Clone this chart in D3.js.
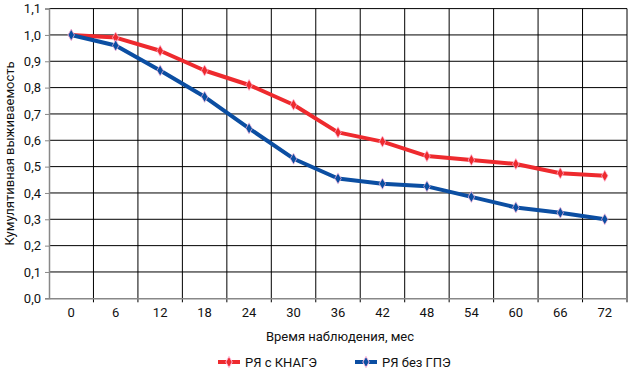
<!DOCTYPE html>
<meta charset="utf-8">
<script src="https://d3js.org/d3.v7.min.js"></script>
<style>
  body { margin: 0; background: #fff; }
  text { font-family: "Liberation Sans Narrow", "Roboto", "Liberation Sans", sans-serif; fill: #111; }
</style>
<div id="chart"></div>
<script>
// months of observation
var months = [0, 6, 12, 18, 24, 30, 36, 42, 48, 54, 60, 66, 72];
// cumulative survival
var withKnage = [1.0, 0.99, 0.94, 0.865, 0.81, 0.735, 0.63, 0.595, 0.54, 0.525, 0.51, 0.475, 0.465];
var withoutGpe = [1.0, 0.96, 0.865, 0.765, 0.645, 0.53, 0.455, 0.435, 0.425, 0.385, 0.345, 0.325, 0.30];
var yTicks = [0, 0.1, 0.2, 0.3, 0.4, 0.5, 0.6, 0.7, 0.8, 0.9, 1.0, 1.1];
var seriesNames = ["РЯ с КНАГЭ", "РЯ без ГПЭ"];
var colors = ["#ee2a2e", "#0b4ea2"];

var W = 632, H = 373;
var margin = {top: 8.6, right: 5, bottom: 74.7, left: 49};
var width = W - margin.left - margin.right,
    height = H - margin.top - margin.bottom;

var svg = d3.select("#chart").append("svg")
    .attr("width", W).attr("height", H);
var g = svg.append("g")
    .attr("transform", "translate(" + margin.left + "," + margin.top + ")");

var x = d3.scaleBand().domain(months).range([0, width]);
var y = d3.scaleLinear().domain([0, 1.1]).range([height, 0]);
var fmt = function(v) { return d3.format(".1f")(v).replace(".", ","); };

// horizontal grid
g.append("g").selectAll("line").data(yTicks.slice(1)).enter().append("line")
    .attr("x1", 0).attr("x2", width)
    .attr("y1", function(d) { return y(d); }).attr("y2", function(d) { return y(d); })
    .attr("stroke", "#000").attr("stroke-width", 1);

// vertical grid at band boundaries
var bounds = months.slice(1).map(function(m) { return x(m); }).concat([width]);
g.append("g").selectAll("line").data(bounds).enter().append("line")
    .attr("x1", function(d) { return d; }).attr("x2", function(d) { return d; })
    .attr("y1", 0).attr("y2", height + 4)
    .attr("stroke", "#000").attr("stroke-width", 1);

// y axis
var yAxis = g.append("g").call(d3.axisLeft(y).tickValues(yTicks).tickFormat(fmt).tickSize(4).tickPadding(4));
yAxis.select(".domain").attr("stroke", "#888").attr("stroke-width", 1.5);
yAxis.selectAll(".tick line").attr("stroke", "#888");
yAxis.selectAll("text").style("font-size", "13px");

// x axis
var xAxis = g.append("g").attr("transform", "translate(0," + height + ")")
    .call(d3.axisBottom(x).tickSize(0).tickPadding(9));
xAxis.select(".domain").attr("stroke", "#888").attr("stroke-width", 1.5);
xAxis.selectAll("text").style("font-size", "13px");

// axis titles
svg.append("text")
    .attr("x", margin.left + width / 2 + 2).attr("y", 341)
    .attr("text-anchor", "middle").style("font-size", "13px")
    .text("Время наблюдения, мес");
svg.append("text")
    .attr("transform", "translate(14," + (margin.top + height / 2) + ") rotate(-90)")
    .attr("text-anchor", "middle").style("font-size", "13px")
    .text("Кумулятивная выживаемость");

// series
var series = [withKnage, withoutGpe];
var line = d3.line()
    .x(function(d, i) { return x(months[i]) + x.bandwidth() / 2; })
    .y(function(d) { return y(d); });
var diamond = d3.symbol().type(d3.symbolDiamond).size(36);

series.forEach(function(vals, k) {
  g.append("path").datum(vals)
    .attr("d", line).attr("fill", "none")
    .attr("stroke", colors[k]).attr("stroke-width", 4)
    .attr("stroke-linejoin", "round");
  g.append("g").selectAll("path").data(vals).enter().append("path")
    .attr("d", diamond)
    .attr("transform", function(d, i) { return "translate(" + (x(months[i]) + x.bandwidth() / 2) + "," + y(d) + ")"; })
    .attr("fill", colors[k]).attr("stroke", "#fbd").attr("stroke-opacity", 0.7).attr("stroke-width", 1);
});

// legend
var legendX = [218, 355];
seriesNames.forEach(function(name, k) {
  var lg = svg.append("g").attr("transform", "translate(" + legendX[k] + ",362)");
  lg.append("line").attr("x1", 0).attr("x2", 22).attr("y1", 0).attr("y2", 0)
    .attr("stroke", colors[k]).attr("stroke-width", 4);
  lg.append("path").attr("d", diamond).attr("transform", "translate(11,0)")
    .attr("fill", colors[k]).attr("stroke", "#fbd").attr("stroke-width", 1);
  lg.append("text").attr("x", 27).attr("y", 5).style("font-size", "13px").text(name);
});
</script>
